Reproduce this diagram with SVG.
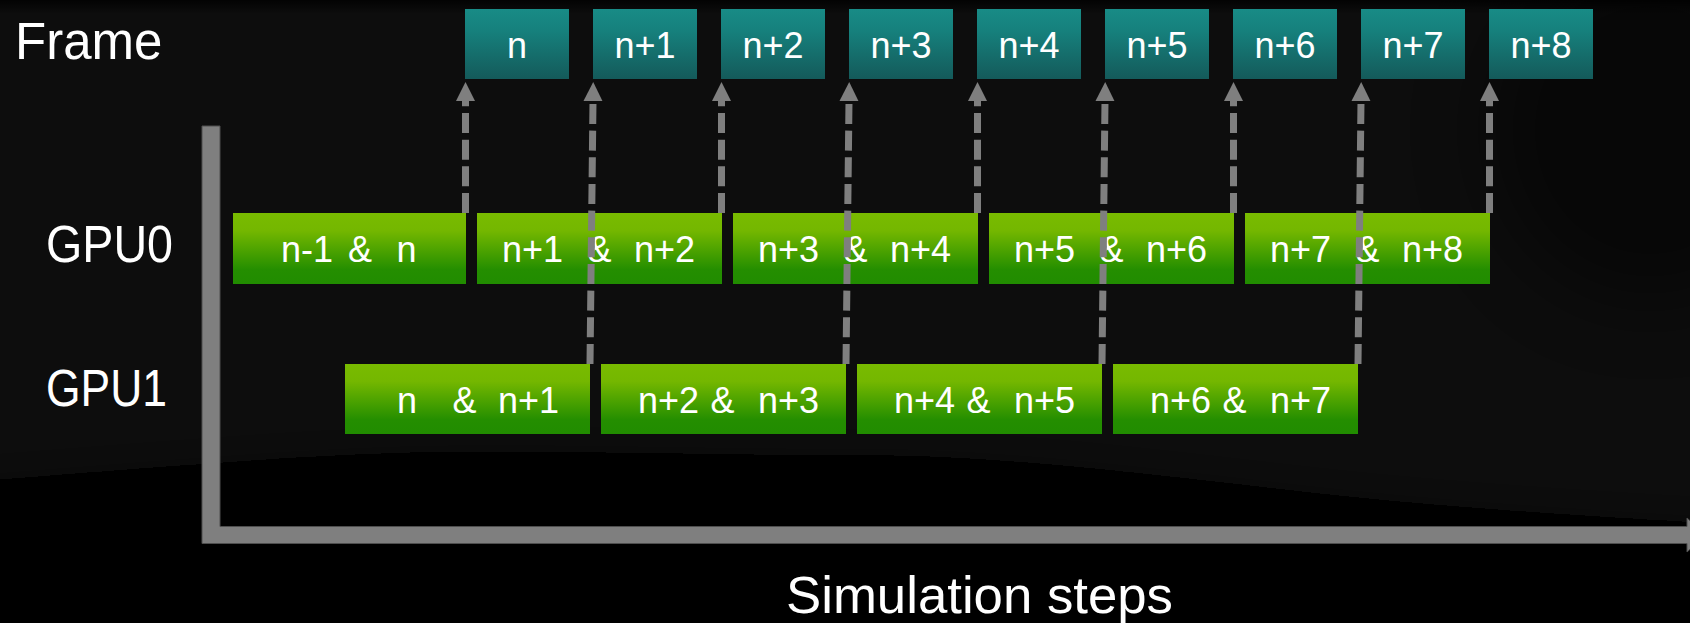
<svg xmlns="http://www.w3.org/2000/svg" width="1690" height="623" viewBox="0 0 1690 623">
  <defs>
    <linearGradient id="gpuFill" x1="0" y1="0" x2="0" y2="1">
      <stop offset="0" stop-color="#79bb00"/>
      <stop offset="0.25" stop-color="#74b700"/>
      <stop offset="0.8" stop-color="#248e00"/>
      <stop offset="1" stop-color="#218c00"/>
    </linearGradient>
    <linearGradient id="frameFill" x1="0" y1="0" x2="0" y2="1">
      <stop offset="0" stop-color="#188b86"/>
      <stop offset="0.3" stop-color="#16817d"/>
      <stop offset="1" stop-color="#145a5a"/>
    </linearGradient>
    <linearGradient id="topFade" x1="0" y1="0" x2="0" y2="1">
      <stop offset="0" stop-color="#000" stop-opacity="0.8"/>
      <stop offset="1" stop-color="#000" stop-opacity="0"/>
    </linearGradient>
    <filter id="soft" x="-10%" y="-10%" width="120%" height="120%">
      <feGaussianBlur stdDeviation="22"/>
    </filter>
    <filter id="softer" x="-30%" y="-30%" width="160%" height="160%">
      <feGaussianBlur stdDeviation="40"/>
    </filter>
    <marker id="head" markerUnits="userSpaceOnUse" markerWidth="20" markerHeight="20" refX="0" refY="0" viewBox="0 -10 20 20" orient="auto">
      <path d="M0,-9.5 L19,0 L0,9.5 Z" fill="#7f7f7f"/>
    </marker>
    <style>
      .lbl { font-family: "Liberation Sans", Arial, sans-serif; fill: #ffffff; }
      .big { font-size: 51px; }
      .cell { font-size: 36px; text-anchor: middle; }
      .gpu rect { fill: url(#gpuFill); }
      .frame rect { fill: url(#frameFill); }
      .link { stroke: #7f7f7f; stroke-width: 7; stroke-dasharray: 20 6.67; fill: none; marker-end: url(#head); }
    </style>
  </defs>

  <!-- backdrop: dark smoky panel fading to black at the bottom -->
  <rect width="1690" height="623" fill="#000"/>
  <path d="M-60,-60 H1750 V525 C1560,515 1420,505 1290,490 C1100,468 980,455 860,455 C700,455 560,450 430,452 C320,454 220,462 -60,484 Z" fill="#111111" filter="url(#soft)"/>
  <ellipse cx="1650" cy="130" rx="160" ry="170" fill="#000" opacity="0.45" filter="url(#softer)"/>
  <rect width="1690" height="14" fill="url(#topFade)"/>

  <!-- axes -->
  <g id="axes">
    <path d="M202,126 H220 V526.5 H1687 V518 L1706,535 L1687,552 V543.5 H202 Z" fill="#7f7f7f" stroke="#4e4e4e" stroke-width="1"/>
  </g>

  <!-- row titles -->
  <g id="row-labels" class="lbl">
    <text id="label-frame" class="big" x="15" y="59">Frame</text>
    <text id="label-gpu0" class="big" x="46" y="262" textLength="127" lengthAdjust="spacingAndGlyphs">GPU0</text>
    <text id="label-gpu1" class="big" x="46" y="406" textLength="121" lengthAdjust="spacingAndGlyphs">GPU1</text>
    <text id="label-steps" x="786" y="613" font-size="52" textLength="387" lengthAdjust="spacingAndGlyphs">Simulation steps</text>
  </g>

  <!-- output frames -->
  <g id="frame-n" class="frame"><rect x="465" y="9" width="104" height="70"/><text class="lbl cell" x="517" y="58">n</text></g>
  <g id="frame-n1" class="frame"><rect x="593" y="9" width="104" height="70"/><text class="lbl cell" x="645" y="58">n+1</text></g>
  <g id="frame-n2" class="frame"><rect x="721" y="9" width="104" height="70"/><text class="lbl cell" x="773" y="58">n+2</text></g>
  <g id="frame-n3" class="frame"><rect x="849" y="9" width="104" height="70"/><text class="lbl cell" x="901" y="58">n+3</text></g>
  <g id="frame-n4" class="frame"><rect x="977" y="9" width="104" height="70"/><text class="lbl cell" x="1029" y="58">n+4</text></g>
  <g id="frame-n5" class="frame"><rect x="1105" y="9" width="104" height="70"/><text class="lbl cell" x="1157" y="58">n+5</text></g>
  <g id="frame-n6" class="frame"><rect x="1233" y="9" width="104" height="70"/><text class="lbl cell" x="1285" y="58">n+6</text></g>
  <g id="frame-n7" class="frame"><rect x="1361" y="9" width="104" height="70"/><text class="lbl cell" x="1413" y="58">n+7</text></g>
  <g id="frame-n8" class="frame"><rect x="1489" y="9" width="104" height="70"/><text class="lbl cell" x="1541" y="58">n+8</text></g>

  <!-- GPU0 simulation steps -->
  <g id="gpu0-step1" class="gpu"><rect x="233" y="213" width="233" height="71"/>
    <text class="lbl cell" y="262"><tspan x="307">n-1</tspan><tspan x="360">&amp;</tspan><tspan x="406.5">n</tspan></text></g>
  <g id="gpu0-step2" class="gpu"><rect x="477" y="213" width="245" height="71"/>
    <text class="lbl cell" y="262"><tspan x="532.5">n+1</tspan><tspan x="599.5">&amp;</tspan><tspan x="664.5">n+2</tspan></text></g>
  <g id="gpu0-step3" class="gpu"><rect x="733" y="213" width="245" height="71"/>
    <text class="lbl cell" y="262"><tspan x="788.5">n+3</tspan><tspan x="855.5">&amp;</tspan><tspan x="920.5">n+4</tspan></text></g>
  <g id="gpu0-step4" class="gpu"><rect x="989" y="213" width="245" height="71"/>
    <text class="lbl cell" y="262"><tspan x="1044.5">n+5</tspan><tspan x="1111.5">&amp;</tspan><tspan x="1176.5">n+6</tspan></text></g>
  <g id="gpu0-step5" class="gpu"><rect x="1245" y="213" width="245" height="71"/>
    <text class="lbl cell" y="262"><tspan x="1300.5">n+7</tspan><tspan x="1367.5">&amp;</tspan><tspan x="1432.5">n+8</tspan></text></g>

  <!-- GPU1 simulation steps -->
  <g id="gpu1-step1" class="gpu"><rect x="345" y="364" width="245" height="70"/>
    <text class="lbl cell" y="413"><tspan x="407">n</tspan><tspan x="464.5">&amp;</tspan><tspan x="528.5">n+1</tspan></text></g>
  <g id="gpu1-step2" class="gpu"><rect x="601" y="364" width="245" height="70"/>
    <text class="lbl cell" y="413"><tspan x="668.5">n+2</tspan><tspan x="722.5">&amp;</tspan><tspan x="788.5">n+3</tspan></text></g>
  <g id="gpu1-step3" class="gpu"><rect x="857" y="364" width="245" height="70"/>
    <text class="lbl cell" y="413"><tspan x="924.5">n+4</tspan><tspan x="978.5">&amp;</tspan><tspan x="1044.5">n+5</tspan></text></g>
  <g id="gpu1-step4" class="gpu"><rect x="1113" y="364" width="245" height="70"/>
    <text class="lbl cell" y="413"><tspan x="1180.5">n+6</tspan><tspan x="1234.5">&amp;</tspan><tspan x="1300.5">n+7</tspan></text></g>

  <!-- dashed hand-off arrows from simulation steps to displayed frames -->
  <g id="connectors">
    <line class="link" x1="465.5" y1="213" x2="465.5" y2="101"/>
    <line class="link" x1="590" y1="364" x2="593" y2="101"/>
    <line class="link" x1="721.5" y1="213" x2="721.5" y2="101"/>
    <line class="link" x1="846" y1="364" x2="849" y2="101"/>
    <line class="link" x1="977.5" y1="213" x2="977.5" y2="101"/>
    <line class="link" x1="1102" y1="364" x2="1105" y2="101"/>
    <line class="link" x1="1233.5" y1="213" x2="1233.5" y2="101"/>
    <line class="link" x1="1358" y1="364" x2="1361" y2="101"/>
    <line class="link" x1="1489.5" y1="213" x2="1489.5" y2="101"/>
  </g>
</svg>
